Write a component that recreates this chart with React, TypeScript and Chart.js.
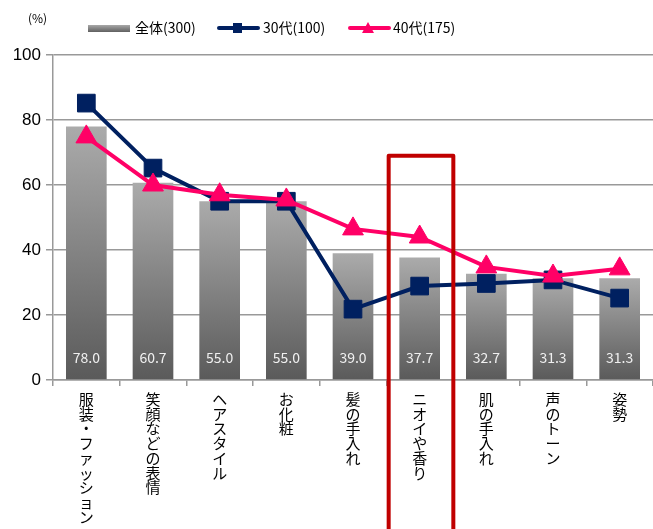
import React, { useEffect, useRef } from "react";
import { Chart, registerables } from "chart.js";
Chart.register(...registerables);

const categories = ["服装・ファッション", "笑顔などの表情", "ヘアスタイル", "お化粧", "髪の手入れ", "ニオイや香り", "肌の手入れ", "声のトーン", "姿勢"];
const totalValues = [78.0, 60.7, 55.0, 55.0, 39.0, 37.7, 32.7, 31.3, 31.3];
const age30Values = [85.2, 65.2, 55.0, 55.0, 21.8, 28.9, 29.7, 30.8, 25.2];
const age40Values = [74.8, 60.0, 57.0, 55.4, 46.5, 44.0, 34.8, 32.0, 34.2];
const seriesNames = ["全体(300)", "30代(100)", "40代(175)"];
const unitLabel = "(%)";
const highlightIndex = 5;
const highlightTopValue = 69;

const FONT = "'Noto Sans CJK JP', 'Noto Sans', sans-serif";
const NAVY = "#002060";
const PINK = "#FF0066";
const RED = "#C00000";

const overlayPlugin = {
  id: "overlay",
  afterDatasetDraw(chart: any, args: any) {
    if (args.index !== 0) return;
    const ctx = chart.ctx;
    const meta = chart.getDatasetMeta(0);
    const y0 = chart.scales.y.getPixelForValue(0);
    ctx.save();
    ctx.font = `14px ${FONT}`;
    ctx.fillStyle = "#f0f0f0";
    ctx.textAlign = "center";
    ctx.textBaseline = "middle";
    meta.data.forEach((bar: any, i: number) => {
      ctx.fillText(totalValues[i].toFixed(1), bar.x, y0 - 22);
    });
    ctx.restore();
  },
  afterDraw(chart: any) {
    const ctx = chart.ctx;
    const xs = chart.scales.x;
    const ys = chart.scales.y;
    ctx.save();
    // highlight box
    const catW = xs.getPixelForValue(1) - xs.getPixelForValue(0);
    const cx = xs.getPixelForValue(highlightIndex) + catW * 0.02;
    const half = catW * 0.485;
    const top = ys.getPixelForValue(highlightTopValue);
    const bottom = chart.height + 10;
    ctx.strokeStyle = RED;
    ctx.lineWidth = 4;
    ctx.lineJoin = "round";
    ctx.beginPath();
    ctx.moveTo(cx - half, bottom);
    ctx.lineTo(cx - half, top);
    ctx.lineTo(cx + half, top);
    ctx.lineTo(cx + half, bottom);
    ctx.stroke();

    // unit label
    ctx.fillStyle = "#000";
    ctx.font = `12px ${FONT}`;
    ctx.textBaseline = "middle";
    ctx.textAlign = "left";
    ctx.fillText(unitLabel, 28, 18);

    // legend
    const ly = 28;
    ctx.font = `14px ${FONT}`;
    const g = ctx.createLinearGradient(0, ly - 3, 0, ly + 4);
    g.addColorStop(0, "#a8a8a8");
    g.addColorStop(1, "#606060");
    ctx.fillStyle = g;
    ctx.fillRect(88, ly - 3, 42, 7);
    ctx.fillStyle = "#000";
    ctx.fillText(seriesNames[0], 135, ly);

    ctx.strokeStyle = NAVY;
    ctx.lineWidth = 4;
    ctx.lineCap = "round";
    ctx.beginPath();
    ctx.moveTo(219, ly);
    ctx.lineTo(258, ly);
    ctx.stroke();
    ctx.fillStyle = NAVY;
    ctx.fillRect(233, ly - 5, 9, 10);
    ctx.fillStyle = "#000";
    ctx.fillText(seriesNames[1], 263, ly);

    ctx.strokeStyle = PINK;
    ctx.beginPath();
    ctx.moveTo(350, ly);
    ctx.lineTo(389, ly);
    ctx.stroke();
    ctx.fillStyle = PINK;
    ctx.beginPath();
    ctx.moveTo(368, ly - 6);
    ctx.lineTo(374, ly + 5);
    ctx.lineTo(362, ly + 5);
    ctx.closePath();
    ctx.fill();
    ctx.fillStyle = "#000";
    ctx.fillText(seriesNames[2], 393, ly);
    ctx.restore();
  },
};

export default function App() {
  const ref = useRef<HTMLCanvasElement | null>(null);
  useEffect(() => {
    if (!ref.current) return;
    const chart = new Chart(ref.current, {
      type: "bar",
      data: {
        labels: categories.map((c) => Array.from(c)),
        datasets: [
          {
            type: "bar",
            label: seriesNames[0],
            data: totalValues,
            order: 3,
            backgroundColor: (c: any) => {
              const ys = c.chart.scales && c.chart.scales.y;
              const v = c.raw;
              if (!ys || !c.chart.chartArea || typeof v !== "number") return "#888";
              const top = ys.getPixelForValue(v);
              const bottom = ys.getPixelForValue(0);
              const g = c.chart.ctx.createLinearGradient(0, top, 0, bottom);
              g.addColorStop(0, "#ababab");
              g.addColorStop(1, "#5a5a5a");
              return g;
            },
            categoryPercentage: 1,
            barPercentage: 0.61,
          },
          {
            type: "line",
            label: seriesNames[1],
            data: age30Values,
            order: 2,
            borderColor: NAVY,
            backgroundColor: NAVY,
            borderWidth: 4,
            pointStyle: "rect",
            pointRadius: 12.5,
            pointBorderWidth: 1,
            tension: 0,
            clip: false,
          },
          {
            type: "line",
            label: seriesNames[2],
            data: age40Values,
            order: 1,
            borderColor: PINK,
            backgroundColor: PINK,
            borderWidth: 4,
            pointStyle: "triangle",
            pointRadius: 12,
            pointBorderWidth: 1,
            tension: 0,
            clip: false,
          },
        ],
      },
      options: {
        animation: false,
        responsive: true,
        maintainAspectRatio: false,
        layout: { autoPadding: false, padding: { top: 55, right: -3, left: 0, bottom: 0 } },
        plugins: { legend: { display: false }, tooltip: { enabled: false } },
        scales: {
          x: {
            offset: true,
            grid: { display: true, offset: true, drawOnChartArea: false, drawTicks: true, tickLength: 6, color: "#999", lineWidth: 1.5 },
            border: { display: true, color: "#999", width: 1.5 },
            ticks: {
              color: "#000",
              font: { family: FONT, size: 15, lineHeight: 0.98 },
              maxRotation: 0,
              minRotation: 0,
              autoSkip: false,
              padding: 6,
            },
            afterFit: (s: any) => { s.height = 149; },
          },
          y: {
            min: 0,
            max: 100,
            ticks: { stepSize: 20, color: "#000", font: { family: "'Liberation Sans', sans-serif", size: 17 }, padding: 5 },
            grid: { color: "#999", lineWidth: 1.5, tickLength: 7 },
            border: { display: true, color: "#999", width: 1.5 },
            afterFit: (s: any) => { s.width = 53; },
          },
        },
      },
      plugins: [overlayPlugin],
    } as any);
    return () => chart.destroy();
  }, []);
  return (
    <div style={{ position: "fixed", left: 0, top: 0, width: 653, height: 529, background: "#fff" }}>
      <canvas ref={ref} />
    </div>
  );
}
